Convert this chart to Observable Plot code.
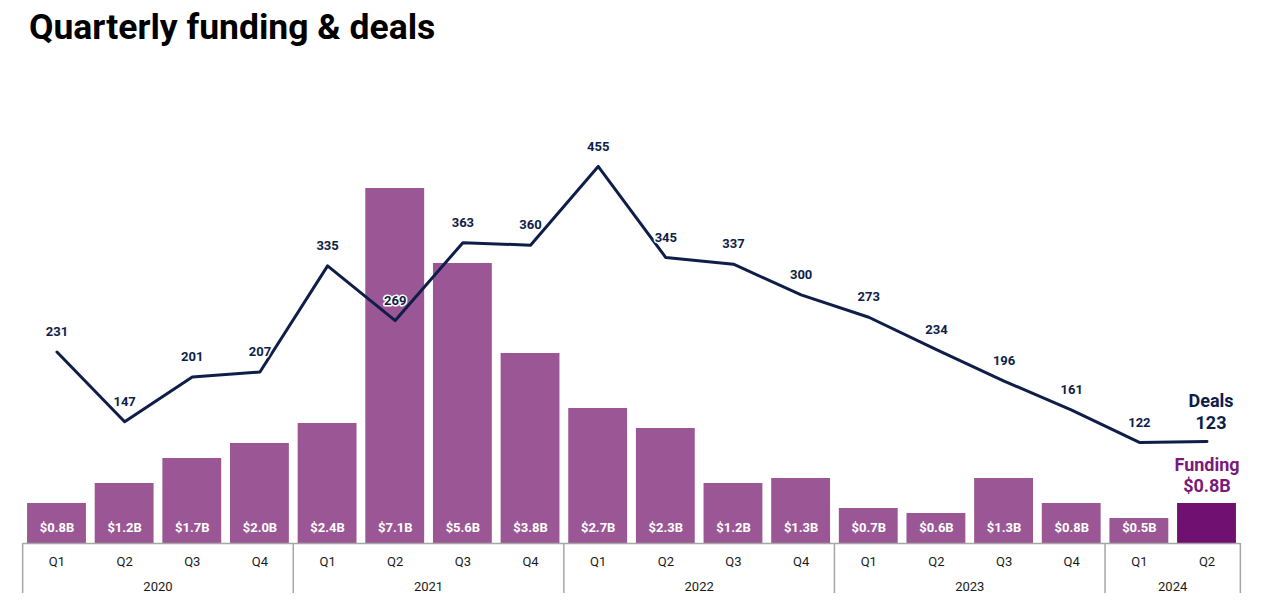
<!DOCTYPE html>
<html>
<head>
<meta charset="utf-8">
<script src="https://cdn.jsdelivr.net/npm/d3@7"></script>
<script src="https://cdn.jsdelivr.net/npm/@observablehq/plot@0.6"></script>
<style>
  body { margin: 0; background: #fff; }
  #title { font: 700 35.5px Roboto, sans-serif; color: #000; padding: 9px 0 0 29px; height: 51px; line-height: 36px; box-sizing: content-box; white-space: nowrap; }
  #chart svg { display: block; }
</style>
</head>
<body>
<div id="title">Quarterly funding &amp; deals</div>
<div id="chart"></div>
<script>
// ---- data ----
const yearLabels = ["2020","2020","2020","2020","2021","2021","2021","2021","2022","2022","2022","2022","2023","2023","2023","2023","2024","2024"];
const quarterLabels = ["Q1","Q2","Q3","Q4","Q1","Q2","Q3","Q4","Q1","Q2","Q3","Q4","Q1","Q2","Q3","Q4","Q1","Q2"];
const fundingB = [0.8,1.2,1.7,2.0,2.4,7.1,5.6,3.8,2.7,2.3,1.2,1.3,0.7,0.6,1.3,0.8,0.5,0.8];
const deals = [231,147,201,207,335,269,363,360,455,345,337,300,273,234,196,161,122,123];

// ---- styling ----
const BAR = "#9b5795";
const BAR_HI = "#701070";
const NAVY = "#0e1e48";
const FUND_LABEL = "#7a1a78";
const AXIS = "#a6a6a6";
const FUNDING_MAX = 9;     // $B at top of plot area
const DEALS_MAX = 543;     // deals at top of plot area (secondary axis)

const data = quarterLabels.map((q, i) => ({
  key: yearLabels[i] + " " + q,
  year: yearLabels[i],
  q,
  funding: fundingB[i],
  deals: deals[i],
  last: i === quarterLabels.length - 1
}));
const keys = data.map(d => d.key);
const yd = d => d.deals / DEALS_MAX * FUNDING_MAX;

// custom mark: year separators and year labels, positioned via the plot's scales
function yearAxis(index, scales) {
  const x = scales.x, y = scales.y;
  const bw = x.bandwidth();
  const step = x(keys[1]) - x(keys[0]);
  const gap = (step - bw) / 2;
  const y0 = y(0);
  const g = d3.create("svg:g");
  const groups = d3.groups(data, d => d.year);
  groups.forEach(([yr, rows], gi) => {
    const left = x(rows[0].key) - gap;
    const right = x(rows[rows.length - 1].key) + bw + gap;
    g.append("line").attr("x1", left).attr("x2", left).attr("y1", y0).attr("y2", y0 + 50)
      .attr("stroke", AXIS).attr("stroke-width", 1.5);
    if (gi === groups.length - 1) {
      g.append("line").attr("x1", right).attr("x2", right).attr("y1", y0).attr("y2", y0 + 50)
        .attr("stroke", AXIS).attr("stroke-width", 1.5);
    }
    g.append("text").attr("x", (left + right) / 2).attr("y", y0 + 43)
      .attr("text-anchor", "middle").attr("dy", "0.35em")
      .attr("font-size", 13).attr("fill", "#1a1a1a").text(yr);
  });
  return g.node();
}

const chart = Plot.plot({
  width: 1269,
  height: 551,
  marginTop: 33,
  marginBottom: 68,
  marginLeft: 23,
  marginRight: 29,
  style: { fontFamily: "Roboto, sans-serif", fontSize: "13px", color: "#1a1a1a", background: "transparent" },
  x: { domain: keys, round: false, paddingInner: 0.13, paddingOuter: 0.06, axis: "bottom", tickSize: 0, tickPadding: 13, tickFormat: k => k.split(" ")[1], label: null },
  y: { domain: [0, FUNDING_MAX], axis: null },
  marks: [
    Plot.barY(data.filter(d => !d.last), { x: "key", y: "funding", fill: BAR }),
    Plot.barY(data.filter(d => d.last), { x: "key", y: "funding", fill: BAR_HI }),
    Plot.text(data.filter(d => !d.last), { x: "key", y: 0, dy: -16, text: d => `$${d.funding.toFixed(1)}B`, fill: "white", fontWeight: "bold", fontSize: 13 }),
    Plot.ruleY([0], { stroke: AXIS, strokeWidth: 1.5 }),
    yearAxis,
    Plot.line(data, { x: "key", y: yd, stroke: NAVY, strokeWidth: 3 }),
    Plot.text(data.filter(d => !d.last), { x: "key", y: yd, dy: -20, text: d => String(d.deals), fill: NAVY, stroke: "white", strokeWidth: 3, fontWeight: "bold", fontSize: 13 }),
    Plot.text(data.filter(d => d.last), { x: "key", y: yd, dy: -40, dx: 4, text: () => "Deals", fill: NAVY, fontWeight: "bold", fontSize: 18 }),
    Plot.text(data.filter(d => d.last), { x: "key", y: yd, dy: -18, dx: 4, text: d => String(d.deals), fill: NAVY, fontWeight: "bold", fontSize: 18 }),
    Plot.text(data.filter(d => d.last), { x: "key", y: "funding", dy: -38, text: () => "Funding", fill: FUND_LABEL, fontWeight: "bold", fontSize: 18 }),
    Plot.text(data.filter(d => d.last), { x: "key", y: "funding", dy: -17, text: d => `$${d.funding.toFixed(1)}B`, fill: FUND_LABEL, fontWeight: "bold", fontSize: 18 })
  ]
});
document.getElementById("chart").append(chart);
</script>
</body>
</html>
